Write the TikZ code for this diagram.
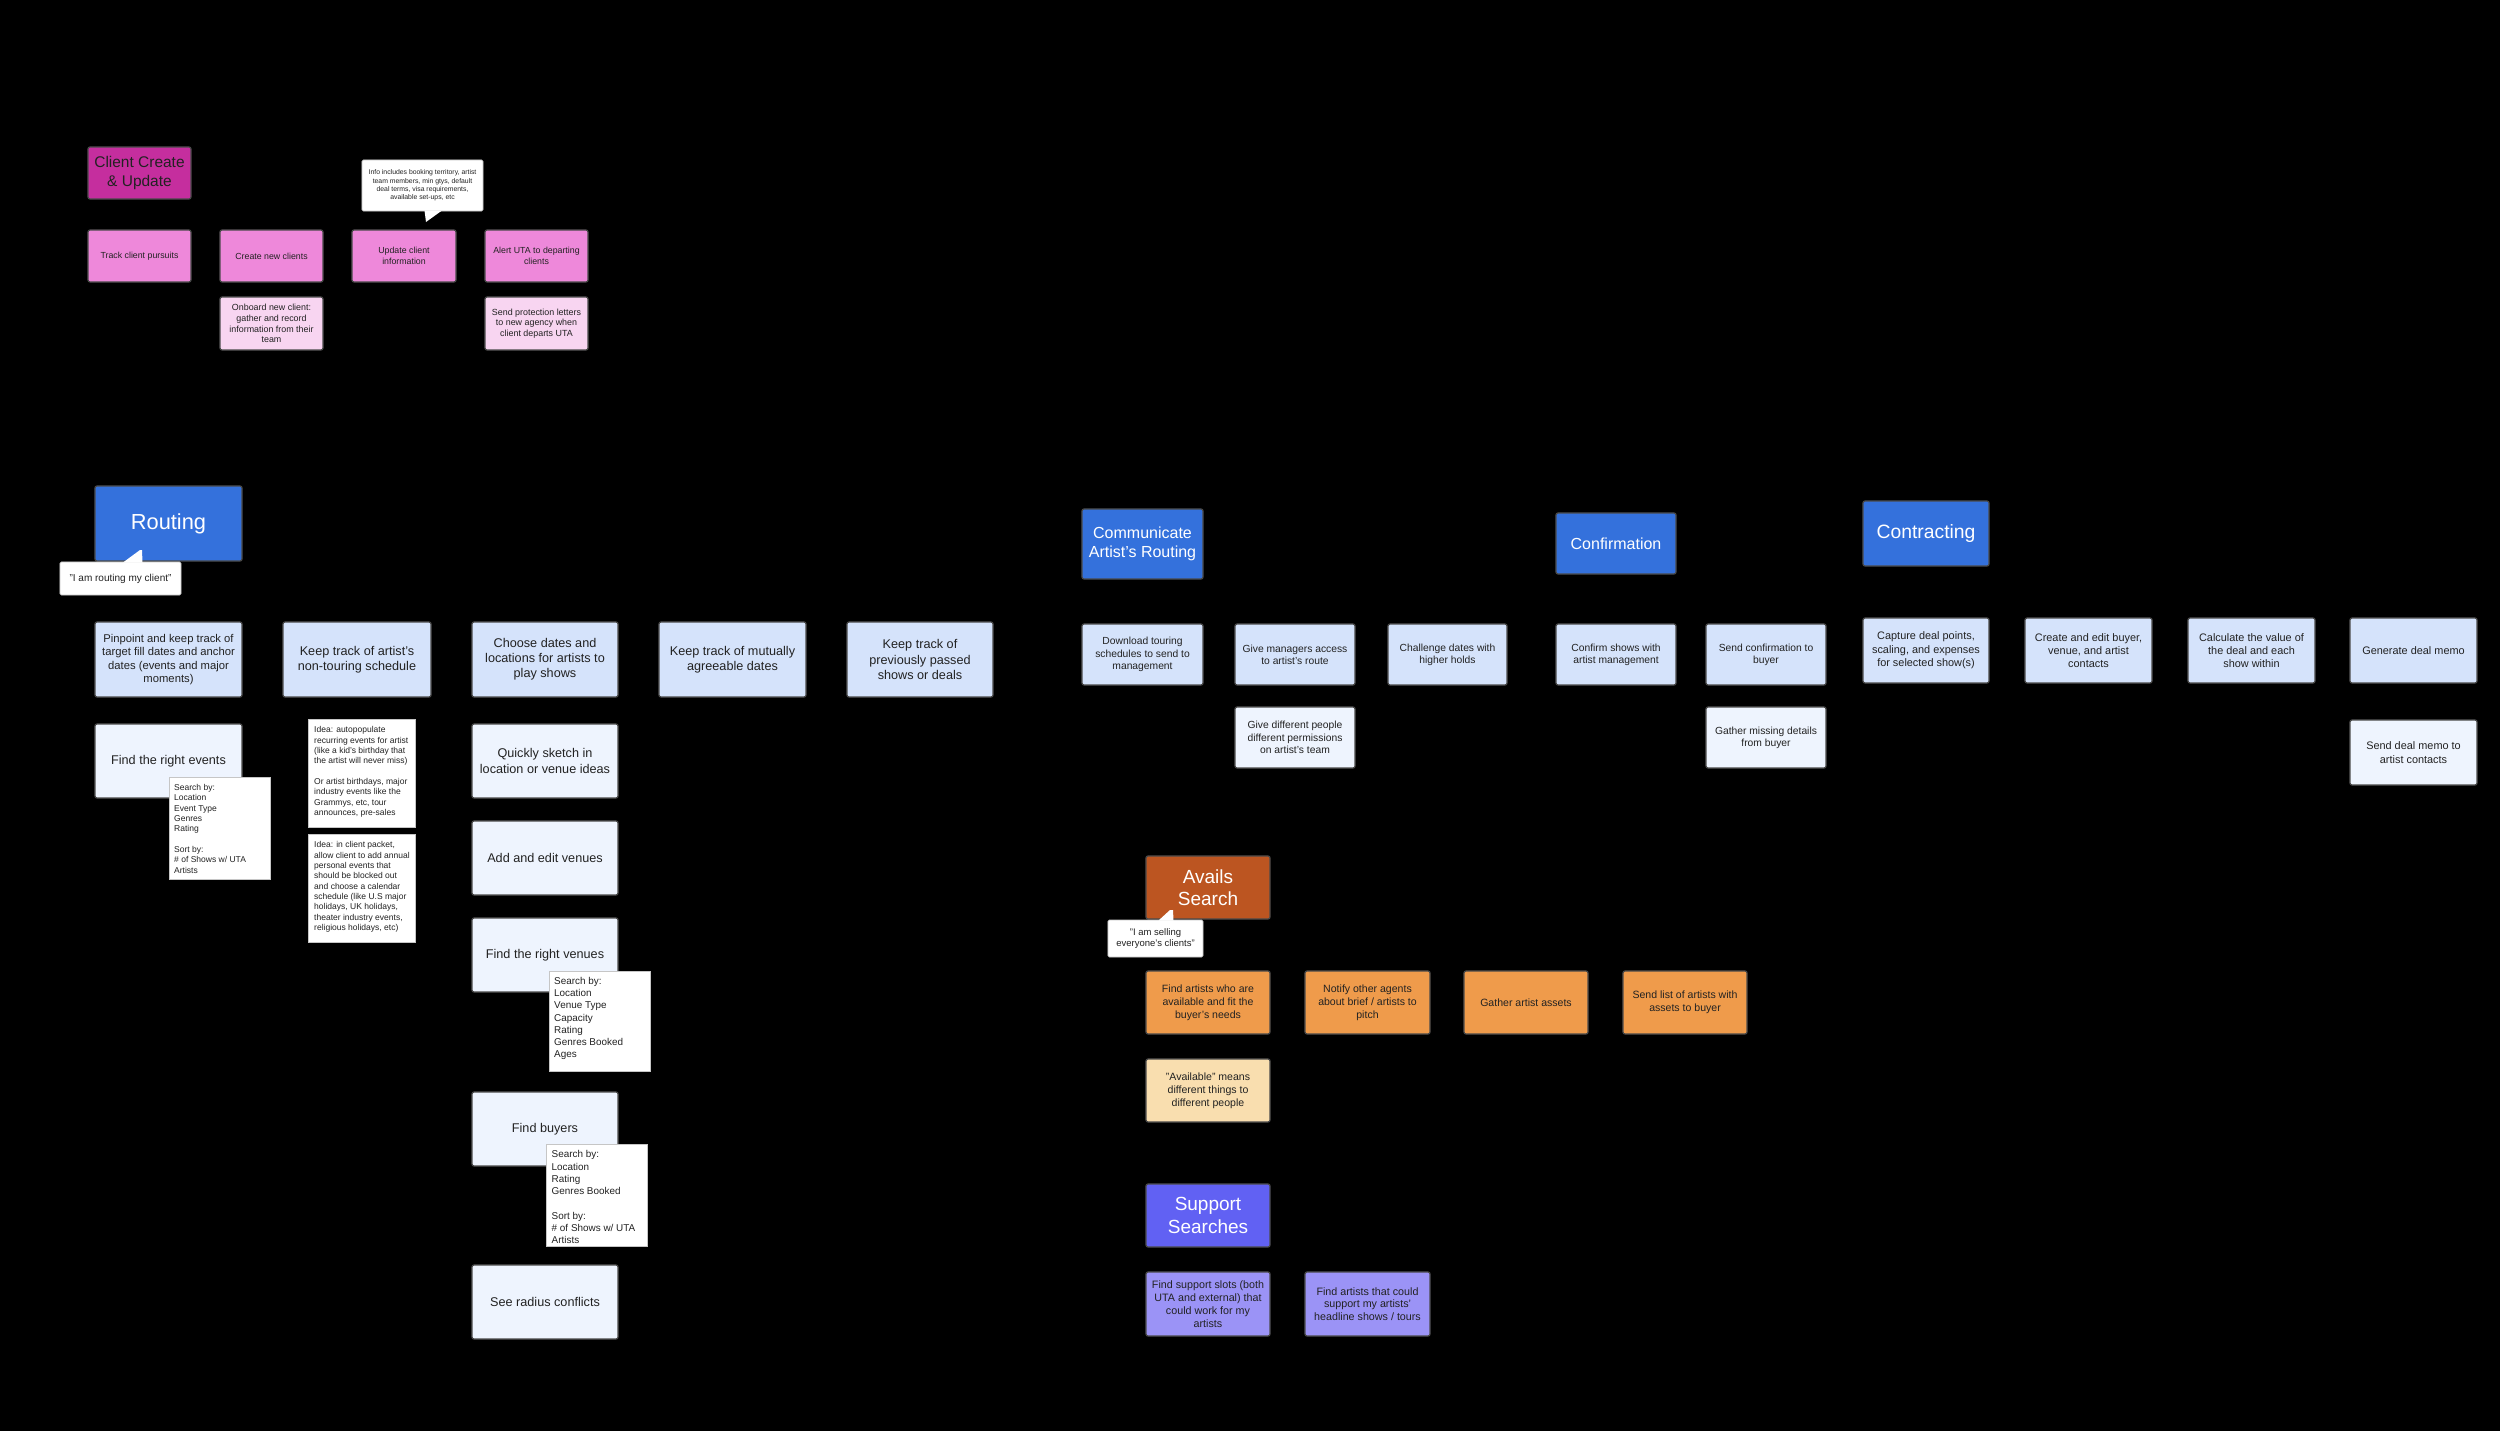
\documentclass[tikz,border=0pt]{standalone}
\usepackage{fontspec}
\setmainfont{Liberation Sans}
\definecolor{cchead}{HTML}{C52E9E}
\definecolor{pinkmid}{HTML}{EE88DA}
\definecolor{pinklight}{HTML}{F8D5F1}
\definecolor{bluehead}{HTML}{3471DC}
\definecolor{bluemid}{HTML}{D5E3FB}
\definecolor{bluelight}{HTML}{EEF4FE}
\definecolor{orhead}{HTML}{BC5521}
\definecolor{ormid}{HTML}{EF9B4B}
\definecolor{orlight}{HTML}{F9DEAF}
\definecolor{puhead}{HTML}{6161F3}
\definecolor{pumid}{HTML}{9B93F6}
\definecolor{edgecol}{HTML}{4A4A4A}
\definecolor{ink}{HTML}{222222}
\tikzset{
  box/.style={rectangle, rounded corners=0.6pt, draw=edgecol, line width=0.35pt, inner sep=0pt, align=center, text=ink},
  headbox/.style={box, text=white},
  note/.style={rectangle, fill=white, draw=gray!45, line width=0.2pt, inner sep=0pt},
  callout/.style={rectangle, fill=white, draw=gray!45, line width=0.2pt, rounded corners=0.4pt, inner sep=0pt, align=center, text=ink},
  ptr/.style={fill=white},
  fcch/.style={font=\fontsize{4.4}{5.4}\selectfont},
  fpink/.style={font=\fontsize{2.5}{2.95}\selectfont},
  fonb/.style={font=\fontsize{2.53}{3.03}\selectfont},
  frhead/.style={font=\fontsize{6.2}{7.2}\selectfont},
  frrow/.style={font=\fontsize{3.6}{4.3}\selectfont},
  fpin/.style={font=\fontsize{3.2}{3.84}\selectfont},
  fcomhead/.style={font=\fontsize{4.55}{5.5}\selectfont},
  fcomrow/.style={font=\fontsize{2.93}{3.5}\selectfont},
  fconrow/.style={font=\fontsize{3.1}{3.8}\selectfont},
  fcontrhead/.style={font=\fontsize{5.5}{6.5}\selectfont},
  favhead/.style={font=\fontsize{5.4}{6.35}\selectfont},
  favrow/.style={font=\fontsize{3.0}{3.7}\selectfont},
  fpurow/.style={font=\fontsize{3.05}{3.65}\selectfont},
  fnotesm/.style={font=\fontsize{2.42}{2.94}\selectfont, text=ink},
  fnotelg/.style={font=\fontsize{2.82}{3.48}\selectfont, text=ink},
  finfo/.style={font=\fontsize{1.95}{2.36}\selectfont},
  fcallout/.style={font=\fontsize{2.85}{3.4}\selectfont},
  fcallav/.style={font=\fontsize{2.7}{3.3}\selectfont},
}
% style, name, x1, y1, x2, y2, text
\newcommand{\ubox}[7]{%
  \pgfmathsetmacro{\ucx}{(#3+#5)/2}%
  \pgfmathsetmacro{\ucy}{(#4+#6)/2}%
  \pgfmathsetmacro{\uw}{(#5-#3)/100}%
  \pgfmathsetmacro{\uh}{(#6-#4)/100}%
  \node[#1, minimum width=\uw cm, minimum height=\uh cm] (#2) at (\ucx,\ucy) {#7};}
% font style, name, x1, y1, x2, y2, padx, pady, text
\newcommand{\unote}[9]{%
  \pgfmathsetmacro{\ucx}{(#3+#5)/2}%
  \pgfmathsetmacro{\ucy}{(#4+#6)/2}%
  \pgfmathsetmacro{\uw}{(#5-#3)/100}%
  \pgfmathsetmacro{\uh}{(#6-#4)/100}%
  \pgfmathsetmacro{\utx}{#3+#7}%
  \pgfmathsetmacro{\uty}{#4+#8}%
  \node[note, minimum width=\uw cm, minimum height=\uh cm] (#2) at (\ucx,\ucy) {};%
  \node[#1, anchor=north west, inner sep=0pt, align=left] (#2-text) at (\utx,\uty) {#9};}
\begin{document}
\begin{tikzpicture}[x=0.01cm, y=-0.01cm]
\useasboundingbox (0,0) rectangle (2500,1430);
\fill[black] (-20,-20) rectangle (2520,1450);

% ---------------- Client Create & Update ----------------
\ubox{box, fill=cchead, fcch}{cch}{88}{147}{191}{199}{Client Create\\\& Update}
\ubox{box, fill=pinkmid, fpink}{p1}{88}{230}{191}{282}{Track client pursuits}
\ubox{box, fill=pinkmid, fpink}{p2}{220}{230}{323}{282}{Create new clients}
\ubox{box, fill=pinkmid, fpink}{p3}{352}{230}{456}{282}{Update client\\information}
\ubox{box, fill=pinkmid, fpink}{p4}{485}{230}{588}{282}{Alert UTA to departing\\clients}
\ubox{box, fill=pinklight, fonb}{p2b}{220}{297}{323}{350}{Onboard new client:\\gather and record\\information from their\\team}
\ubox{box, fill=pinklight, fonb}{p4b}{485}{297}{588}{350}{Send protection letters\\to new agency when\\client departs UTA}
\ubox{callout, finfo}{info}{362}{160}{483}{211}{Info includes booking territory, artist\\team members, min gtys, default\\deal terms, visa requirements,\\available set-ups, etc}
\fill[ptr] (424.5,210.5) -- (426,222) -- (442,210.5) -- cycle;

% ---------------- Routing ----------------
\ubox{headbox, fill=bluehead, frhead}{rh}{95}{486}{242}{561}{Routing}
\ubox{callout, fcallout}{rc}{60}{562}{181}{595}{"I am routing my client"}
\fill[ptr] (123,562.5) -- (140,550) -- (142,550) -- (142.5,562.5) -- cycle;

\ubox{box, fill=bluemid, fpin}{r1}{95}{622}{242}{697}{Pinpoint and keep track of\\target fill dates and anchor\\dates (events and major\\moments)}
\ubox{box, fill=bluemid, frrow}{r2}{283}{622}{431}{697}{Keep track of artist's\\non-touring schedule}
\ubox{box, fill=bluemid, frrow}{r3}{472}{622}{618}{697}{Choose dates and\\locations for artists to\\play shows}
\ubox{box, fill=bluemid, frrow}{r4}{659}{622}{806}{697}{Keep track of mutually\\agreeable dates}
\ubox{box, fill=bluemid, frrow}{r5}{847}{622}{993}{697}{Keep track of\\previously passed\\shows or deals}

\ubox{box, fill=bluelight, frrow}{r1a}{95}{724}{242}{798}{Find the right events}
\unote{fnotesm}{n1}{169}{777}{270}{879}{4.5}{6.5}{Search by:\\Location\\Event Type\\Genres\\Rating\\[2.94pt]Sort by:\\\# of Shows w/ UTA\\Artists}

\unote{fnotesm}{i1}{308}{719}{415}{827}{5.5}{7}{Idea: autopopulate\\recurring events for artist\\(like a kid's birthday that\\the artist will never miss)\\[2.94pt]Or artist birthdays, major\\industry events like the\\Grammys, etc, tour\\announces, pre-sales}
\unote{fnotesm}{i2}{308}{834}{415}{942}{5.5}{7}{Idea: in client packet,\\allow client to add annual\\personal events that\\should be blocked out\\and choose a calendar\\schedule (like U.S major\\holidays, UK holidays,\\theater industry events,\\religious holidays, etc)}

\ubox{box, fill=bluelight, frrow}{r3a}{472}{724}{618}{798}{Quickly sketch in\\location or venue ideas}
\ubox{box, fill=bluelight, frrow}{r3b}{472}{821}{618}{895}{Add and edit venues}
\ubox{box, fill=bluelight, frrow}{r3c}{472}{918}{618}{992}{Find the right venues}
\unote{fnotelg}{n2}{549}{971}{650}{1071}{4.5}{5.5}{Search by:\\Location\\Venue Type\\Capacity\\Rating\\Genres Booked\\Ages}
\ubox{box, fill=bluelight, frrow}{r3d}{472}{1092}{618}{1166}{Find buyers}
\unote{fnotelg}{n3}{546}{1144}{647}{1246}{5}{6}{Search by:\\Location\\Rating\\Genres Booked\\[3.48pt]Sort by:\\\# of Shows w/ UTA\\Artists}
\ubox{box, fill=bluelight, frrow}{r3e}{472}{1265}{618}{1339}{See radius conflicts}

% ---------------- Communicate Artist's Routing ----------------
\ubox{headbox, fill=bluehead, fcomhead}{ch}{1082}{509}{1203}{579}{Communicate\\Artist's Routing}
\ubox{box, fill=bluemid, fcomrow}{c1}{1082}{624}{1203}{685}{Download touring\\schedules to send to\\management}
\ubox{box, fill=bluemid, fcomrow}{c2}{1235}{624}{1355}{685}{Give managers access\\to artist's route}
\ubox{box, fill=bluemid, fcomrow}{c3}{1388}{624}{1507}{685}{Challenge dates with\\higher holds}
\ubox{box, fill=bluelight, fcomrow}{c2b}{1235}{707}{1355}{768}{Give different people\\different permissions\\on artist's team}

% ---------------- Confirmation ----------------
\ubox{headbox, fill=bluehead, fcomhead}{fh}{1556}{513}{1676}{574}{Confirmation}
\ubox{box, fill=bluemid, fcomrow}{f1}{1556}{624}{1676}{685}{Confirm shows with\\artist management}
\ubox{box, fill=bluemid, fcomrow}{f2}{1706}{624}{1826}{685}{Send confirmation to\\buyer}
\ubox{box, fill=bluelight, fcomrow}{f2b}{1706}{707}{1826}{768}{Gather missing details\\from buyer}

% ---------------- Contracting ----------------
\ubox{headbox, fill=bluehead, fcontrhead}{kh}{1863}{501}{1989}{566}{Contracting}
\ubox{box, fill=bluemid, fconrow}{k1}{1863}{618}{1989}{683}{Capture deal points,\\scaling, and expenses\\for selected show(s)}
\ubox{box, fill=bluemid, fconrow}{k2}{2025}{618}{2152}{683}{Create and edit buyer,\\venue, and artist\\contacts}
\ubox{box, fill=bluemid, fconrow}{k3}{2188}{618}{2315}{683}{Calculate the value of\\the deal and each\\show within}
\ubox{box, fill=bluemid, fconrow}{k4}{2350}{618}{2477}{683}{Generate deal memo}
\ubox{box, fill=bluelight, fconrow}{k4b}{2350}{720}{2477}{785}{Send deal memo to\\artist contacts}

% ---------------- Avails Search ----------------
\ubox{headbox, fill=orhead, favhead}{ah}{1146}{856}{1270}{919}{Avails\\Search}
\ubox{callout, fcallav}{ac}{1108}{920}{1203}{957}{"I am selling\\everyone's clients"}
\fill[ptr] (1158.5,920.5) -- (1170,910) -- (1173,910) -- (1173.5,920.5) -- cycle;
\ubox{box, fill=ormid, favrow}{a1}{1146}{971}{1270}{1034}{Find artists who are\\available and fit the\\buyer's needs}
\ubox{box, fill=ormid, favrow}{a2}{1305}{971}{1430}{1034}{Notify other agents\\about brief / artists to\\pitch}
\ubox{box, fill=ormid, favrow}{a3}{1464}{971}{1588}{1034}{Gather artist assets}
\ubox{box, fill=ormid, favrow}{a4}{1623}{971}{1747}{1034}{Send list of artists with\\assets to buyer}
\ubox{box, fill=orlight, favrow}{a1b}{1146}{1059}{1270}{1122}{"Available" means\\different things to\\different people}

% ---------------- Support Searches ----------------
\ubox{headbox, fill=puhead, favhead}{sh}{1146}{1184}{1270}{1247}{Support\\Searches}
\ubox{box, fill=pumid, fpurow}{s1}{1146}{1272}{1270}{1336}{Find support slots (both\\UTA and external) that\\could work for my\\artists}
\ubox{box, fill=pumid, fpurow}{s2}{1305}{1272}{1430}{1336}{Find artists that could\\support my artists'\\headline shows / tours}
\end{tikzpicture}
\end{document}
